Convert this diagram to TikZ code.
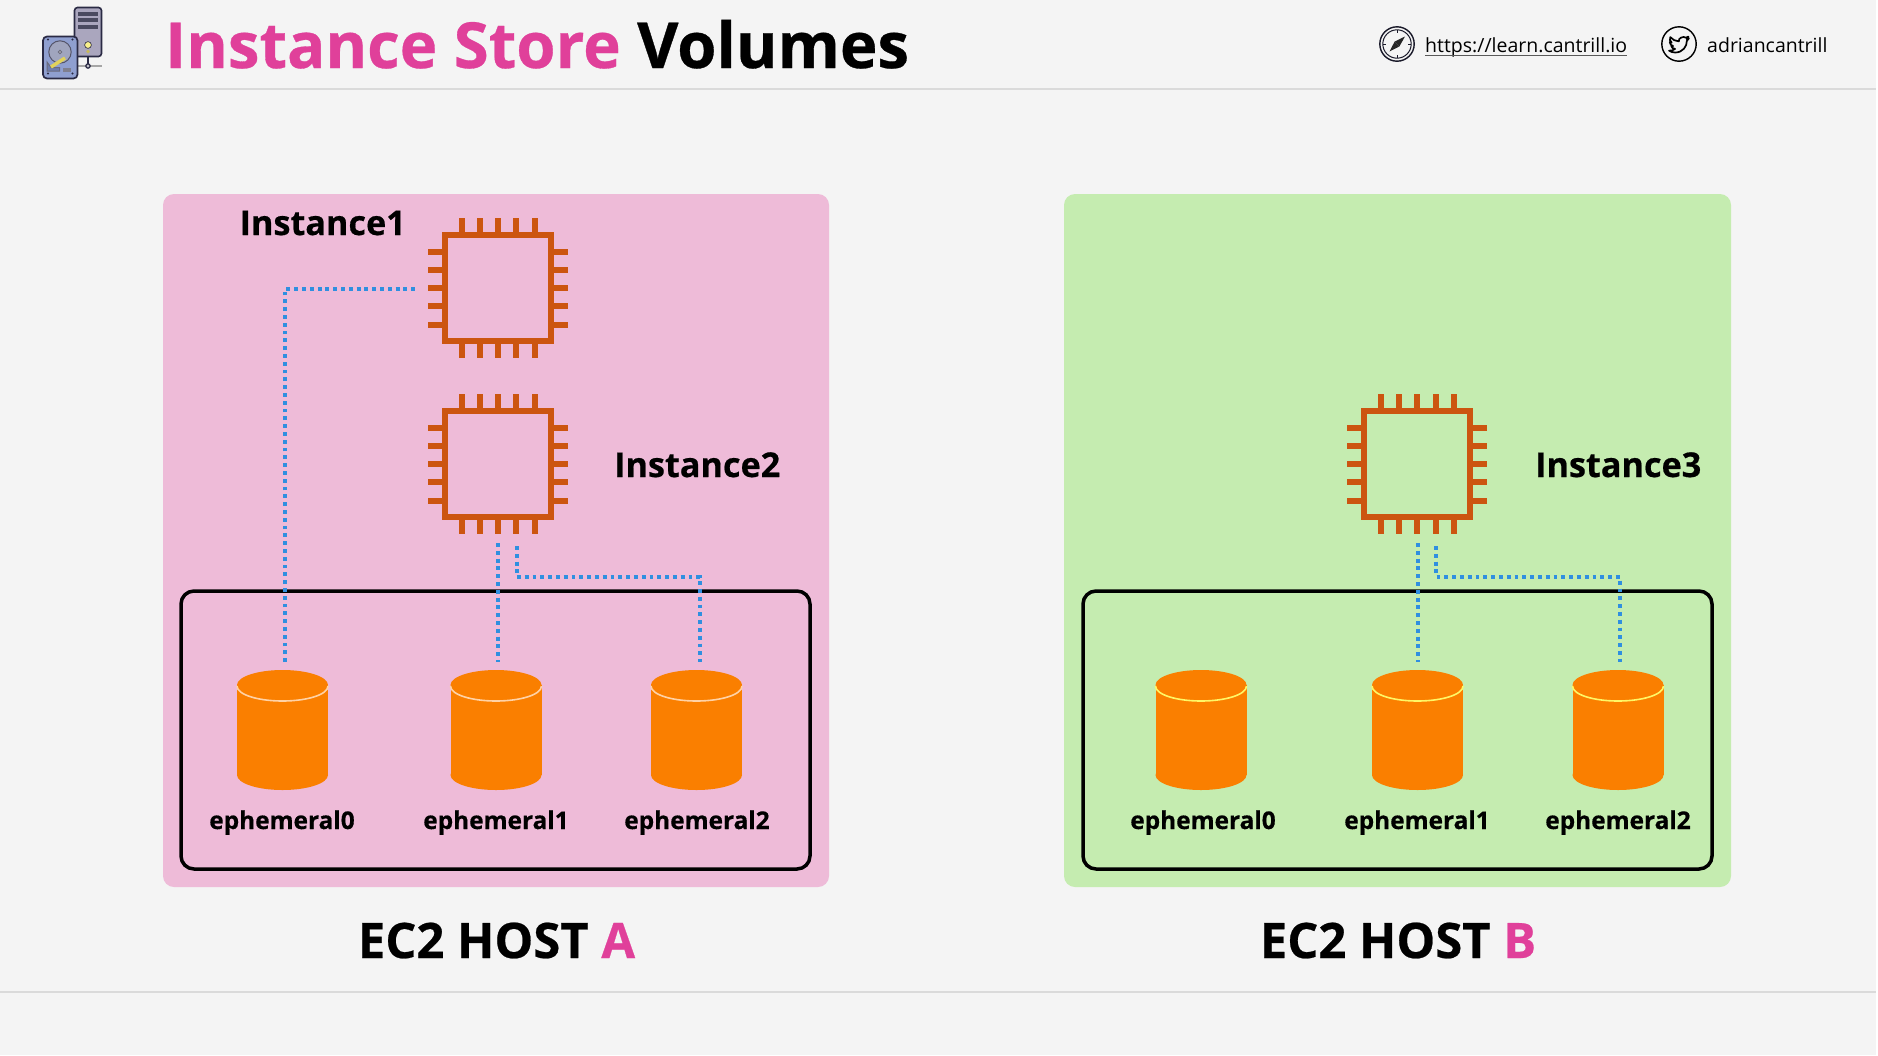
\documentclass[tikz,border=0pt]{standalone}
\usepackage{fontspec}
\setmainfont[BoldFeatures={FakeBold=0.5}]{Open Sans}
\definecolor{bgc}{HTML}{F4F4F4}
\definecolor{rulec}{HTML}{DADADA}
\definecolor{pinkc}{HTML}{EEBBD8}
\definecolor{greenc}{HTML}{C5ECB0}
\definecolor{magc}{HTML}{E0409A}
\definecolor{chipc}{HTML}{CC5510}
\definecolor{cylc}{HTML}{FA7F00}
\definecolor{dotc}{HTML}{2F8FE0}
\definecolor{inkc}{HTML}{2A2A44}
\definecolor{srvc}{RGB}{170,166,190}
\definecolor{bulbc}{RGB}{250,240,140}
\definecolor{bulbd}{RGB}{200,185,90}
\definecolor{hddc}{RGB}{143,159,208}
\definecolor{platc}{RGB}{160,165,190}
\definecolor{hddd}{RGB}{110,125,175}
\definecolor{armc}{RGB}{225,210,90}
\tikzset{
  x=1pt,y=-1pt,
  hostbox/.style={rounded corners=11pt,draw=none},
  innerbox/.style={draw=black,line width=3.5pt,rounded corners=13pt},
  chipbox/.style={draw=chipc,line width=6pt,minimum size=106pt,inner sep=0pt,fill=none},
  pin/.style={draw=chipc,line width=6pt},
  wire/.style={draw=dotc,line width=4.2pt,dash pattern=on 3.9pt off 3.9pt},
  title/.style={anchor=base west,font=\fontsize{63.5}{63.5}\selectfont\bfseries,inner sep=0pt},
  hostlabel/.style={anchor=base,font=\fontsize{48.9}{48.9}\selectfont\bfseries,inner sep=0pt},
  instlabel/.style={anchor=base west,font=\fontsize{34.2}{34.2}\selectfont\bfseries,inner sep=0pt},
  vollabel/.style={anchor=base,font=\fontsize{24.4}{24.4}\selectfont\bfseries,inner sep=0pt},
  linklabel/.style={anchor=base west,font=\fontsize{19.5}{19.5}\selectfont,inner sep=0pt},
}
\newcommand{\chipat}[3]{%
  \node[chipbox] (#1) at (#2,#3) {};
  \begin{scope}[shift={(#2,#3)}]
    \foreach \d in {-36.5,-18.2,0,18.2,36.5}{
      \draw[pin] (\d,-56) -- (\d,-70);
      \draw[pin] (\d,56) -- (\d,70);
      \draw[pin] (-56,\d) -- (-70,\d);
      \draw[pin] (56,\d) -- (70,\d);
    }
  \end{scope}}
\newcommand{\cylat}[3]{%
  \begin{scope}[shift={(#2,0)}]
    \fill[cylc] (-45.5,685) rectangle (45.5,775);
    \fill[cylc] (0,775) ellipse [x radius=45.5pt,y radius=15pt];
    \fill[cylc] (0,685) ellipse [x radius=45.5pt,y radius=15pt];
    \draw[#3,line width=1.6pt] (-45.5,686) .. controls (-45.5,694.5) and (-25,701) .. (0,701) .. controls (25,701) and (45.5,694.5) .. (45.5,686);
    \coordinate (#1) at (0,662);
  \end{scope}}
\begin{document}
\begin{tikzpicture}
\useasboundingbox (0,0) rectangle (1878,1055);
\fill[bgc] (0,0) rectangle (1878,1055);
\fill[white] (1876,0) rectangle (1878,1055);
\draw[rulec,line width=1.2pt] (0,89) -- (1876,89);
\draw[rulec,line width=1.2pt] (0,992) -- (1876,992);

% header icon
\draw[black!35,line width=1.2pt] (78,66) -- (102,66);
\draw[inkc,line width=1.2pt] (88,57) -- (88,64);
\draw[inkc,line width=1.2pt,fill=white!70!inkc] (88,66) circle (2.2);
\draw[inkc,line width=1.6pt,fill=srvc,rounded corners=3pt] (74.5,7.5) rectangle (101.5,56.5);
\foreach \y in {14,20,27}{\fill[inkc!85!white] (78,\y-1.7) rectangle (98,\y+1.7);}
\filldraw[fill=bulbc,draw=inkc,line width=.6pt] (88,45) circle (3.4);
\fill[bulbd] (88,51.5) circle (1.8);
\draw[inkc,line width=1.7pt,fill=hddc,rounded corners=4pt] (43,36.5) rectangle (77.5,78.5);
\foreach \a/\b in {48/39.5,72.5/39.5,48/73.5,72.5/73.5}{\fill[inkc] (\a,\b) circle (1.2);}
\draw[inkc!80!white,line width=1pt,fill=platc] (60,52) circle (11.2);
\draw[inkc!70!white,line width=.8pt,fill=white!70!inkc] (60,52) circle (1.7);
\draw[inkc!70!white,line width=1pt,fill=hddd] (47,62) -- (47,71) -- (59.5,71) -- (59.5,67.5) -- (51,67.5) -- cycle;
\fill[inkc!60!white] (62.5,68) rectangle (71,71.5);
\draw[armc,line width=3.4pt] (51,67) -- (65,58);

% title
\node[title,text=magc] (titlea) at (165,68) {Instance Store};
\node[title,text=black] (titleb) at (637,68) {Volumes};

% links
\draw[inkc!60!black,line width=1.4pt] (1397,44) circle (17.2);
\draw[inkc!60!black,line width=1pt] (1397,44) circle (14.2);
\foreach \a in {0,90,180,270}{\draw[inkc!60!black,line width=1pt] ([shift={(\a:14.2)}]1397,44) -- ([shift={(\a:11)}]1397,44);}
\fill[black!85] (1405,36.5) -- (1399.4,46.4) -- (1394.6,41.6) -- cycle;
\fill[black!85] (1389.5,51.5) -- (1399.4,46.4) -- (1394.6,41.6) -- cycle;
\node[linklabel] (url) at (1425,52.5) {https://learn.cantrill.io};
\draw[black!65,line width=1.5pt] (1425,55.5) -- (1627,55.5);
\draw[black,line width=1.4pt] (1679,44) circle (17.2);
\begin{scope}[shift={(1669,34.5)},scale=.83]
\draw[black,line width=1.7pt,line join=round] (24,4.6) -- (21.1,5.3) -- (23.3,2.6) -- (20.2,3.8) .. controls (18,1.7) and (10.7,4) .. (11.8,8.3) .. controls (7.7,8.1) and (4.1,6.1) .. (1.6,3.2) .. controls (0.4,5.4) and (1,8.3) .. (3.2,9.7) -- (0.9,9.1) .. controls (0.9,11.5) and (2.6,13.4) .. (4.9,13.9) -- (2.7,14) .. controls (3.3,15.9) and (5.1,17.3) .. (7.3,17.4) .. controls (5.5,18.8) and (2.8,19.8) .. (0,19.5) .. controls (2.2,21) and (4.8,21.7) .. (7.6,21.7) .. controls (16.6,21.7) and (21.6,14.2) .. (21.5,7.7) .. controls (22.5,7) and (23.4,5.9) .. (24,4.6) -- cycle;
\end{scope}
\node[linklabel] (handle) at (1707,52.5) {adriancantrill};

% hosts
\fill[pinkc,hostbox] (163,194) rectangle (829,887);
\fill[greenc,hostbox] (1064,194) rectangle (1731,887);
\draw[innerbox] (181,591) rectangle (810,869);
\draw[innerbox] (1083,591) rectangle (1712,869);

% chips
\chipat{chipone}{498}{288}
\chipat{chiptwo}{498}{464}
\chipat{chipthree}{1417.3}{464}

% cylinders
\cylat{cylaz}{282.5}{orange!35!white}
\cylat{cylao}{496}{orange!35!white}
\cylat{cylat}{696.5}{orange!35!white}
\cylat{cylbz}{1201}{yellow!60!white}
\cylat{cylbo}{1417.5}{yellow!60!white}
\cylat{cylbt}{1618}{yellow!60!white}

% connector ends
\coordinate (aze) at (285,662);
\coordinate (aoe) at (498.3,662);
\coordinate (ate) at (700,662);
\coordinate (boe) at (1417.7,662);
\coordinate (bte) at (1620,662);
\coordinate (onew) at (416,289);
\coordinate (twoa) at (498.3,543);
\coordinate (twob) at (516.7,546);
\coordinate (twoc) at (516.7,577);
\coordinate (threea) at (1417.7,543);
\coordinate (threeb) at (1436.3,546);
\coordinate (threec) at (1436.3,577);

\draw[wire] (aze) |- (onew);
\draw[wire] (twoa) -- (aoe);
\draw[wire] (twob) -- (twoc) -| (ate);
\draw[wire] (threea) -- (boe);
\draw[wire] (threeb) -- (threec) -| (bte);

% labels
\node[instlabel] (li1) at (239.5,235) {Instance1};
\node[instlabel] (li2) at (614,477) {Instance2};
\node[instlabel] (li3) at (1535,477) {Instance3};
\node[vollabel] (la0) at (282,829) {ephemeral0};
\node[vollabel] (la1) at (496,829) {ephemeral1};
\node[vollabel] (la2) at (697,829) {ephemeral2};
\node[vollabel] (lb0) at (1203,829) {ephemeral0};
\node[vollabel] (lb1) at (1417,829) {ephemeral1};
\node[vollabel] (lb2) at (1618,829) {ephemeral2};
\node[hostlabel] (ha) at (496.5,958) {EC2 HOST \textcolor{magc}{A}};
\node[hostlabel] (hb) at (1398,958) {EC2 HOST \textcolor{magc}{B}};
\end{tikzpicture}
\end{document}
